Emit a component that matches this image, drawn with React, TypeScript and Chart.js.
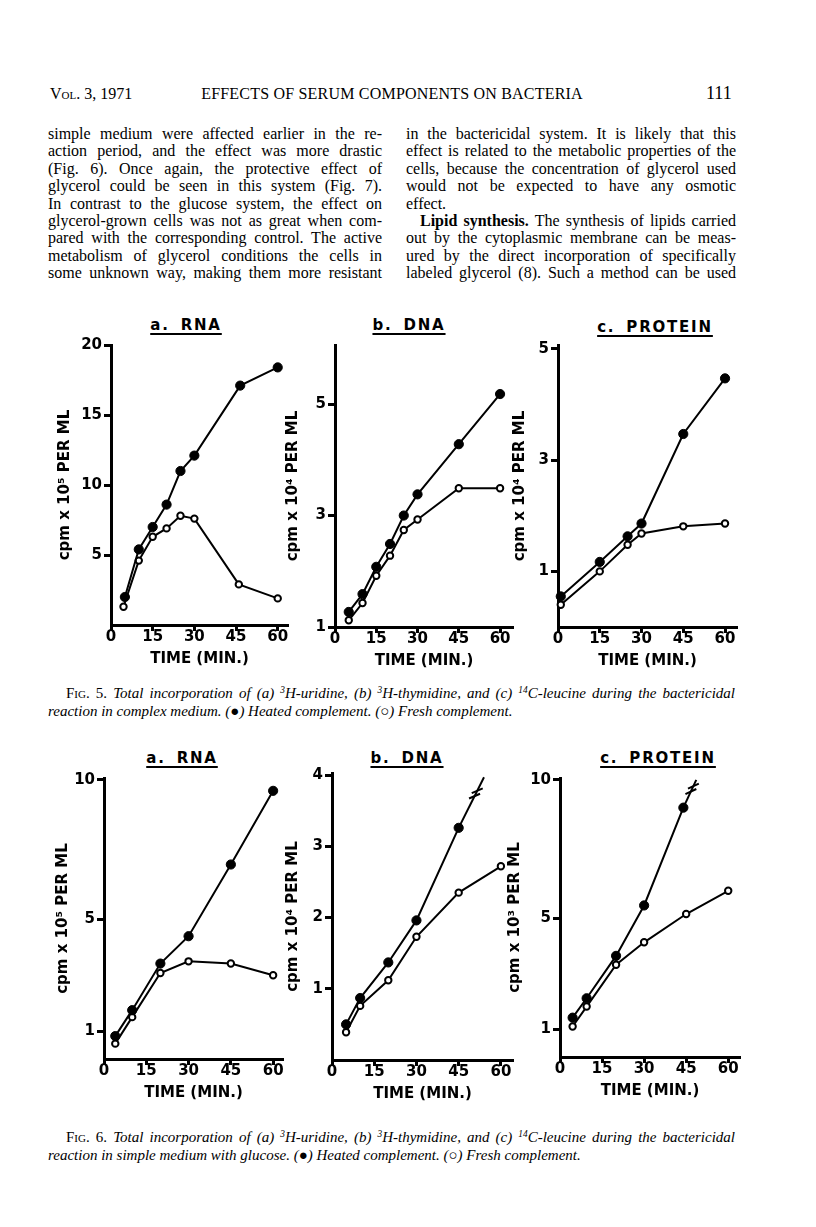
import React, { useEffect, useRef } from "react";
import { Chart, registerables } from "chart.js";

Chart.register(...registerables);

// ---------------- data ----------------
const X_TICKS = [0, 15, 30, 45, 60];

// Fig. 5a RNA (cpm x 10^5 per ml)
const F5A_HEATED_T = [5, 10, 15, 20, 25, 30, 46.5, 60];
const F5A_HEATED = [2.0, 5.4, 7.0, 8.6, 11.0, 12.1, 17.1, 18.4];
const F5A_FRESH_T = [4.5, 10, 15, 20, 25, 30, 46, 60];
const F5A_FRESH = [1.3, 4.6, 6.3, 6.9, 7.8, 7.6, 2.9, 1.9];
const F5A_Y_TICKS = [5, 10, 15, 20];

// Fig. 5b DNA (cpm x 10^4 per ml)
const F5B_HEATED_T = [5, 10, 15, 20, 25, 30, 45, 60];
const F5B_HEATED = [1.27, 1.59, 2.08, 2.49, 3.0, 3.38, 4.28, 5.18];
const F5B_FRESH_T = [5, 10, 15, 20, 25, 30, 45, 60];
const F5B_FRESH = [1.12, 1.43, 1.92, 2.28, 2.74, 2.93, 3.49, 3.49];
const F5B_Y_TICKS = [1, 3, 5];

// Fig. 5c PROTEIN (cpm x 10^4 per ml)
const F5C_HEATED_T = [1, 15, 25, 30, 45, 60];
const F5C_HEATED = [0.55, 1.17, 1.63, 1.86, 3.47, 4.47];
const F5C_FRESH_T = [1, 15, 25, 30, 45, 60];
const F5C_FRESH = [0.4, 1.0, 1.48, 1.68, 1.81, 1.86];
const F5C_Y_TICKS = [1, 3, 5];

// Fig. 6a RNA (cpm x 10^5 per ml)
const F6A_HEATED_T = [4, 10, 20, 30, 45, 60];
const F6A_HEATED = [0.82, 1.75, 3.42, 4.4, 6.97, 9.61];
const F6A_FRESH_T = [4, 10, 20, 30, 45, 60];
const F6A_FRESH = [0.55, 1.5, 3.08, 3.5, 3.42, 3.0];
const F6A_Y_TICKS = [1, 5, 10];

// Fig. 6b DNA (cpm x 10^4 per ml)
const F6B_HEATED_T = [5, 10, 20, 30, 45];
const F6B_HEATED = [0.5, 0.87, 1.37, 1.96, 3.26];
const F6B_HEATED_CONT = [54, 3.97];
const F6B_FRESH_T = [5, 10, 20, 30, 45, 60];
const F6B_FRESH = [0.39, 0.76, 1.12, 1.73, 2.35, 2.72];
const F6B_Y_TICKS = [1, 2, 3, 4];

// Fig. 6c PROTEIN (cpm x 10^3 per ml)
const F6C_HEATED_T = [4.5, 9.5, 20, 30, 44];
const F6C_HEATED = [1.42, 2.12, 3.65, 5.47, 9.0];
const F6C_HEATED_CONT = [48.6, 10.0];
const F6C_FRESH_T = [4.5, 9.5, 20, 30, 45, 60];
const F6C_FRESH = [1.1, 1.82, 3.33, 4.14, 5.16, 6.0];
const F6C_Y_TICKS = [1, 5, 10];

const BREAK_AT = 0.68;

// ---------------- layout ----------------
const CHART_FONT = '"DejaVu Sans", Verdana, sans-serif';
const SERIF = '"Liberation Serif", "Times New Roman", serif';
const PT = 12;
const PR = 12;
const XH = 43;
const FONT_SIZE = 15;
const TITLE_LH = FONT_SIZE * 1.2;

type PanelSpec = {
  key: string;
  area: [number, number, number, number];
  xMax: number;
  yMin: number;
  yMax: number;
  yTicks: number[];
  yTitle: string;
  yTitleOffset: number;
  heatedT: number[];
  heated: number[];
  freshT: number[];
  fresh: number[];
  cont?: number[];
  title: string;
  titleCx: number;
  titleCy: number;
};

const PANELS: PanelSpec[] = [
  { key: "5a", area: [111, 345, 288, 625], xMax: 63.7, yMin: 0, yMax: 20, yTicks: F5A_Y_TICKS, yTitle: "cpm x 10⁵ PER ML", yTitleOffset: 46, heatedT: F5A_HEATED_T, heated: F5A_HEATED, freshT: F5A_FRESH_T, fresh: F5A_FRESH, title: "a. RNA", titleCx: 186, titleCy: 325 },
  { key: "5b", area: [335, 345, 513, 627], xMax: 64.7, yMin: 1, yMax: 6.06, yTicks: F5B_Y_TICKS, yTitle: "cpm x 10⁴ PER ML", yTitleOffset: 42, heatedT: F5B_HEATED_T, heated: F5B_HEATED, freshT: F5B_FRESH_T, fresh: F5B_FRESH, title: "b. DNA", titleCx: 409, titleCy: 325 },
  { key: "5c", area: [558, 345, 737, 627], xMax: 64.3, yMin: 0, yMax: 5.07, yTicks: F5C_Y_TICKS, yTitle: "cpm x 10⁴ PER ML", yTitleOffset: 38, heatedT: F5C_HEATED_T, heated: F5C_HEATED, freshT: F5C_FRESH_T, fresh: F5C_FRESH, title: "c. PROTEIN", titleCx: 655, titleCy: 327 },
  { key: "6a", area: [104, 778, 283, 1059], xMax: 63.5, yMin: 0, yMax: 10.07, yTicks: F6A_Y_TICKS, yTitle: "cpm x 10⁵ PER ML", yTitleOffset: 41, heatedT: F6A_HEATED_T, heated: F6A_HEATED, freshT: F6A_FRESH_T, fresh: F6A_FRESH, title: "a. RNA", titleCx: 182, titleCy: 758 },
  { key: "6b", area: [332, 773, 513, 1060], xMax: 64.3, yMin: 0, yMax: 4.03, yTicks: F6B_Y_TICKS, yTitle: "cpm x 10⁴ PER ML", yTitleOffset: 39, heatedT: F6B_HEATED_T, heated: F6B_HEATED, freshT: F6B_FRESH_T, fresh: F6B_FRESH, cont: F6B_HEATED_CONT, title: "b. DNA", titleCx: 407, titleCy: 758 },
  { key: "6c", area: [560, 778, 740, 1057], xMax: 64.2, yMin: 0, yMax: 10.07, yTicks: F6C_Y_TICKS, yTitle: "cpm x 10³ PER ML", yTitleOffset: 45, heatedT: F6C_HEATED_T, heated: F6C_HEATED, freshT: F6C_FRESH_T, fresh: F6C_FRESH, cont: F6C_HEATED_CONT, title: "c. PROTEIN", titleCx: 658, titleCy: 758 },
];

const breakPlugin = {
  id: "breakMarks",
  afterDatasetsDraw(chart: any, _args: any, opts: any) {
    if (!opts || !opts.from || !opts.to) return;
    const xs = chart.scales.x;
    const ys = chart.scales.y;
    const x0 = xs.getPixelForValue(opts.from[0]);
    const y0 = ys.getPixelForValue(opts.from[1]);
    const x1 = xs.getPixelForValue(opts.to[0]);
    const y1 = ys.getPixelForValue(opts.to[1]);
    const len = Math.hypot(x1 - x0, y1 - y0);
    const dx = (x1 - x0) / len;
    const dy = (y1 - y0) / len;
    const px = x0 + (x1 - x0) * opts.at;
    const py = y0 + (y1 - y0) * opts.at;
    const ang = Math.atan2(dy, dx) + (40 * Math.PI) / 180;
    const mx = Math.cos(ang);
    const my = Math.sin(ang);
    const ctx = chart.ctx;
    ctx.save();
    ctx.strokeStyle = "#000";
    ctx.lineWidth = 2;
    for (const k of [-1, 1]) {
      const cx = px + dx * k * 3;
      const cy = py + dy * k * 3;
      ctx.beginPath();
      ctx.moveTo(cx - mx * 6, cy - my * 6);
      ctx.lineTo(cx + mx * 6, cy + my * 6);
      ctx.stroke();
    }
    ctx.restore();
  },
};

function Panel({ spec }: { spec: PanelSpec }) {
  const ref = useRef<HTMLCanvasElement>(null);
  const [l, t, r, b] = spec.area;
  const yw = Math.round(spec.yTitleOffset + TITLE_LH / 2);
  const w = Math.round(r - l + yw + PR);
  const h = Math.round(b - t + PT + XH);

  useEffect(() => {
    if (!ref.current) return;
    const font = { family: CHART_FONT, size: FONT_SIZE, weight: "bold" as const };
    const toPts = (xs: number[], ys: number[]) => xs.map((x, i) => ({ x, y: ys[i] }));
    const heated = toPts(spec.heatedT, spec.heated);
    const datasets: any[] = [
      {
        label: "Heated complement",
        data: heated,
        showLine: true,
        borderColor: "#000",
        borderWidth: 2,
        pointRadius: 4.6,
        pointBackgroundColor: "#000",
        pointBorderColor: "#000",
        pointBorderWidth: 1,
        clip: false,
      },
      {
        label: "Fresh complement",
        data: toPts(spec.freshT, spec.fresh),
        showLine: true,
        borderColor: "#000",
        borderWidth: 2,
        pointRadius: 3.2,
        pointBackgroundColor: "#fff",
        pointBorderColor: "#000",
        pointBorderWidth: 2,
        clip: false,
      },
    ];
    let breakOpts: any = false;
    if (spec.cont) {
      const last = heated[heated.length - 1];
      const end = { x: spec.cont[0], y: spec.cont[1] };
      datasets.push({
        label: "continuation",
        data: [last, end],
        showLine: true,
        borderColor: "#000",
        borderWidth: 2,
        pointRadius: 0,
        clip: false,
      });
      breakOpts = { from: [last.x, last.y], to: [end.x, end.y], at: BREAK_AT };
    }

    const chart = new Chart(ref.current, {
      type: "scatter",
      data: { datasets },
      plugins: [breakPlugin],
      options: {
        responsive: false,
        animation: false,
        devicePixelRatio: 1,
        events: [],
        layout: { padding: { top: PT, right: PR, left: 0, bottom: 0 } },
        plugins: {
          legend: { display: false },
          tooltip: { enabled: false },
          title: { display: false },
          breakMarks: breakOpts,
        } as any,
        scales: {
          x: {
            type: "linear",
            min: 0,
            max: spec.xMax,
            afterBuildTicks: (s: any) => {
              s.ticks = X_TICKS.map((v) => ({ value: v }));
            },
            afterFit: (s: any) => {
              s.height = XH;
            },
            grid: { drawOnChartArea: false, drawTicks: true, tickLength: 6, tickWidth: 3, tickColor: "#000" },
            border: { display: true, color: "#000", width: 3 },
            ticks: {
              font: { ...font, lineHeight: 1 },
              color: "#000",
              padding: -1,
              maxRotation: 0,
              autoSkip: false,
              callback: (v: any) => String(v),
            },
            title: { display: true, text: "TIME (MIN.)", font, color: "#000", padding: { top: 0, bottom: 0 } },
          },
          y: {
            type: "linear",
            min: spec.yMin,
            max: spec.yMax,
            afterBuildTicks: (s: any) => {
              s.ticks = spec.yTicks.map((v) => ({ value: v }));
            },
            afterFit: (s: any) => {
              s.width = yw;
            },
            grid: { drawOnChartArea: false, drawTicks: true, tickLength: 7, tickWidth: 3, tickColor: "#000" },
            border: { display: true, color: "#000", width: 3 },
            ticks: {
              font,
              color: "#000",
              padding: 2,
              autoSkip: false,
              callback: (v: any) => String(v),
            },
            title: { display: true, text: spec.yTitle, font, color: "#000", padding: { top: 0, bottom: 0 } },
          },
        },
      } as any,
    });
    return () => chart.destroy();
  }, []);

  return (
    <canvas
      ref={ref}
      width={w}
      height={h}
      style={{ position: "absolute", left: l - yw, top: t - PT, width: w, height: h }}
    />
  );
}

const LEFT_LINES = [
  "simple medium were affected earlier in the re-",
  "action period, and the effect was more drastic",
  "(Fig. 6). Once again, the protective effect of",
  "glycerol could be seen in this system (Fig. 7).",
  "In contrast to the glucose system, the effect on",
  "glycerol-grown cells was not as great when com-",
  "pared with the corresponding control. The active",
  "metabolism of glycerol conditions the cells in",
  "some unknown way, making them more resistant",
];

const RIGHT_LINES = [
  "in the bactericidal system. It is likely that this",
  "effect is related to the metabolic properties of the",
  "cells, because the concentration of glycerol used",
  "would not be expected to have any osmotic",
  "effect.",
  "LIPID",
  "out by the cytoplasmic membrane can be meas-",
  "ured by the direct incorporation of specifically",
  "labeled glycerol (8). Such a method can be used",
];

const LINE_H = 17.4;

const supStyle: React.CSSProperties = { fontSize: "0.62em", verticalAlign: "0.5em", lineHeight: 0 };

function Caption({ top, num, second }: { top: number; num: string; second: string }) {
  const lineStyle: React.CSSProperties = {
    position: "absolute",
    fontFamily: SERIF,
    fontStyle: "italic",
    fontSize: 15,
    lineHeight: "18px",
    whiteSpace: "nowrap",
  };
  return (
    <>
      <div style={{ ...lineStyle, left: 66, top, width: 669, textAlign: "justify", textAlignLast: "justify", whiteSpace: "normal" }}>
        <span style={{ fontStyle: "normal", fontVariant: "small-caps" }}>Fig. {num}.</span> Total incorporation of (a){" "}
        <sup style={supStyle}>3</sup>H-uridine, (b) <sup style={supStyle}>3</sup>H-thymidine, and (c){" "}
        <sup style={supStyle}>14</sup>C-leucine during the bactericidal
      </div>
      <div style={{ ...lineStyle, left: 48, top: top + 18 }}>
        {second} (<span style={{ fontStyle: "normal" }}>●</span>) Heated complement. (
        <span style={{ fontStyle: "normal" }}>○</span>) Fresh complement.
      </div>
    </>
  );
}

export default function App() {
  const bodyLine: React.CSSProperties = {
    height: LINE_H,
    lineHeight: LINE_H + "px",
    textAlign: "justify",
    textAlignLast: "justify",
  };
  return (
    <div
      style={{
        position: "absolute",
        left: 0,
        top: 0,
        width: 816,
        height: 1227,
        background: "#fff",
        color: "#000",
        fontFamily: SERIF,
        overflow: "hidden",
      }}
    >
      {/* running head */}
      <div style={{ position: "absolute", left: 50, top: 84, fontSize: 16, lineHeight: "19px" }}>
        <span style={{ fontVariant: "small-caps" }}>Vol.</span> 3, 1971
      </div>
      <div
        style={{
          position: "absolute",
          left: 392,
          top: 84,
          transform: "translateX(-50%)",
          fontSize: 16,
          lineHeight: "19px",
          whiteSpace: "nowrap",
          letterSpacing: "0.2px",
        }}
      >
        EFFECTS OF SERUM COMPONENTS ON BACTERIA
      </div>
      <div style={{ position: "absolute", left: 706, top: 83, fontSize: 18, lineHeight: "20px" }}>111</div>

      {/* body text */}
      <div style={{ position: "absolute", left: 48, top: 125, width: 334, fontSize: 16 }}>
        {LEFT_LINES.map((s, i) => (
          <div key={i} style={bodyLine}>
            {s}
          </div>
        ))}
      </div>
      <div style={{ position: "absolute", left: 406, top: 125, width: 330, fontSize: 16 }}>
        {RIGHT_LINES.map((s, i) =>
          s === "LIPID" ? (
            <div key={i} style={{ ...bodyLine, paddingLeft: 14 }}>
              <b>Lipid synthesis.</b> The synthesis of lipids carried
            </div>
          ) : (
            <div key={i} style={i === 4 ? { ...bodyLine, textAlignLast: "left" } : bodyLine}>
              {s}
            </div>
          )
        )}
      </div>

      {/* panel titles */}
      {PANELS.map((p) => (
        <div
          key={"t" + p.key}
          style={{
            position: "absolute",
            left: p.titleCx,
            top: p.titleCy - 9,
            transform: "translateX(-50%)",
            fontFamily: CHART_FONT,
            fontWeight: "bold",
            fontSize: 15,
            lineHeight: "18px",
            letterSpacing: "1.8px",
            wordSpacing: "4px",
            whiteSpace: "nowrap",
            textDecoration: "underline",
            textDecorationThickness: "2px",
            textUnderlineOffset: "3px",
          }}
        >
          {p.title}
        </div>
      ))}

      {PANELS.map((p) => (
        <Panel key={p.key} spec={p} />
      ))}

      <Caption top={684} num="5" second="reaction in complex medium." />
      <Caption top={1128} num="6" second="reaction in simple medium with glucose." />
    </div>
  );
}
